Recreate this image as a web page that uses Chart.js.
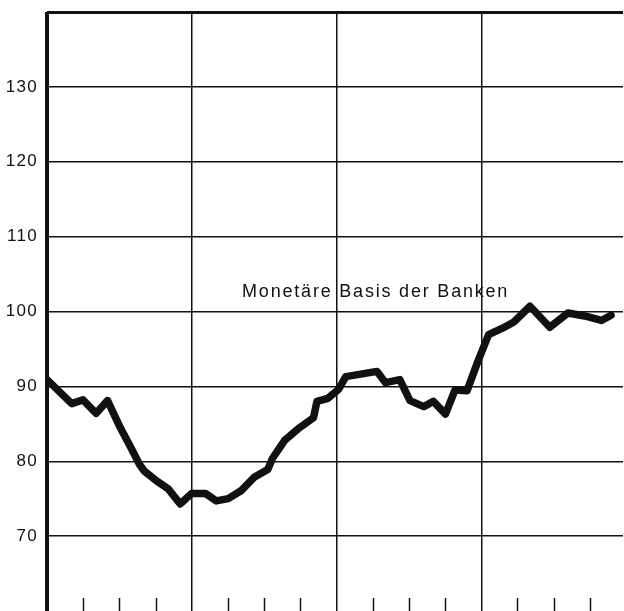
<!DOCTYPE html>
<html>
<head>
<meta charset="utf-8">
<script src="https://cdn.jsdelivr.net/npm/chart.js@4.4.1/dist/chart.umd.min.js"></script>
<style>
  html, body { margin: 0; padding: 0; background: #fff; }
  #wrap { width: 624px; height: 611px; }
</style>
</head>
<body>
<div id="wrap"><canvas id="myChart" width="624" height="611"></canvas></div>
<script>
// months since start of chart (x) and index value (y)
var monthsX = [0, 2.05, 2.98, 4.08, 5.02, 6.07, 6.96, 7.66, 8.06, 9.05, 10.05, 11.04, 11.99, 13.13, 14.03, 15.02,
  16.12, 17.21, 18.3, 18.7, 19.7, 20.79, 22.09, 22.38, 23.28, 24.17, 24.77, 27.36, 28.05, 29.25, 30.09,
  31.23, 32.03, 33.03, 33.82, 34.82, 35.71, 36.61, 37.8, 38.7, 40.04, 41.68, 43.18, 44.57, 45.96, 46.76];
var basisValues = [90.9, 87.7, 88.2, 86.4, 88.1, 84.5, 81.8, 79.6, 78.7, 77.4, 76.3, 74.3, 75.7, 75.7, 74.7, 75.0,
  76.1, 77.9, 78.9, 80.4, 82.8, 84.3, 85.8, 88.0, 88.4, 89.6, 91.3, 92.0, 90.5, 90.9, 88.1,
  87.3, 88.0, 86.3, 89.5, 89.4, 93.3, 96.9, 97.8, 98.6, 100.7, 97.9, 99.8, 99.4, 98.8, 99.5];
var yTicks = [70, 80, 90, 100, 110, 120, 130];
var seriesLabel = 'Monetäre Basis der Banken';

var FONT = '"Liberation Sans", Arial, Helvetica, sans-serif';

var pts = monthsX.map(function (m, i) { return {x: m, y: basisValues[i]}; });

var extras = {
  id: 'extras',
  beforeDraw: function (chart) {
    chart.ctx.letterSpacing = '1.3px';
  },
  afterDatasetsDraw: function (chart) {
    var ctx = chart.ctx, xs = chart.scales.x, ys = chart.scales.y, a = chart.chartArea;
    ctx.save();
    ctx.strokeStyle = '#111';
    ctx.lineWidth = 1.5;
    // short quarter ticks along the bottom edge
    for (var m = 3; m < 48; m += 3) {
      if (m % 12 === 0) continue;
      var px = Math.round(xs.getPixelForValue(m)) + 0.5;
      ctx.beginPath();
      ctx.moveTo(px, a.bottom);
      ctx.lineTo(px, a.bottom - 13);
      ctx.stroke();
    }
    // series label
    ctx.fillStyle = '#111';
    ctx.font = '18px ' + FONT;
    ctx.letterSpacing = '1.8px';
    ctx.textBaseline = 'alphabetic';
    ctx.textAlign = 'left';
    ctx.fillText(seriesLabel, xs.getPixelForValue(16.17), ys.getPixelForValue(101.9));
    ctx.restore();
  }
};

new Chart(document.getElementById('myChart').getContext('2d'), {
  type: 'line',
  data: {
    datasets: [{
      label: seriesLabel,
      data: pts,
      borderColor: '#111',
      borderWidth: 7.5,
      borderJoinStyle: 'round',
      borderCapStyle: 'round',
      pointRadius: 0,
      tension: 0,
      fill: false
    }]
  },
  options: {
    responsive: false,
    animation: false,
    layout: {padding: {top: 12, right: 1, left: 0, bottom: 0}},
    plugins: {legend: {display: false}, tooltip: {enabled: false}},
    scales: {
      x: {
        type: 'linear',
        min: 0,
        max: 47.75,
        afterFit: function (s) { s.height = 0; s.paddingLeft = 0; s.paddingRight = 0; },
        afterBuildTicks: function (s) {
          s.ticks = [0, 12, 24, 36].map(function (v) { return {value: v}; });
        },
        ticks: {display: false},
        border: {display: false},
        grid: {
          drawTicks: false,
          color: '#111',
          lineWidth: function (c) { return c.tick && c.tick.value === 0 ? 4 : 1.5; }
        }
      },
      y: {
        min: 60,
        max: 140,
        afterFit: function (s) { s.width = 47; s.paddingTop = 0; s.paddingBottom = 0; },
        afterBuildTicks: function (s) {
          s.ticks = [60].concat(yTicks, [140]).map(function (v) { return {value: v}; });
        },
        ticks: {
          padding: 9,
          color: '#111',
          font: {family: FONT, size: 17},
          callback: function (v) { return yTicks.indexOf(v) >= 0 ? String(v) : ''; }
        },
        border: {display: false},
        grid: {
          drawTicks: false,
          color: function (c) { return c.tick && c.tick.value === 60 ? 'rgba(0,0,0,0)' : '#111'; },
          lineWidth: function (c) { return c.tick && c.tick.value === 140 ? 3 : 1.5; }
        }
      }
    }
  },
  plugins: [extras]
});
</script>
</body>
</html>
